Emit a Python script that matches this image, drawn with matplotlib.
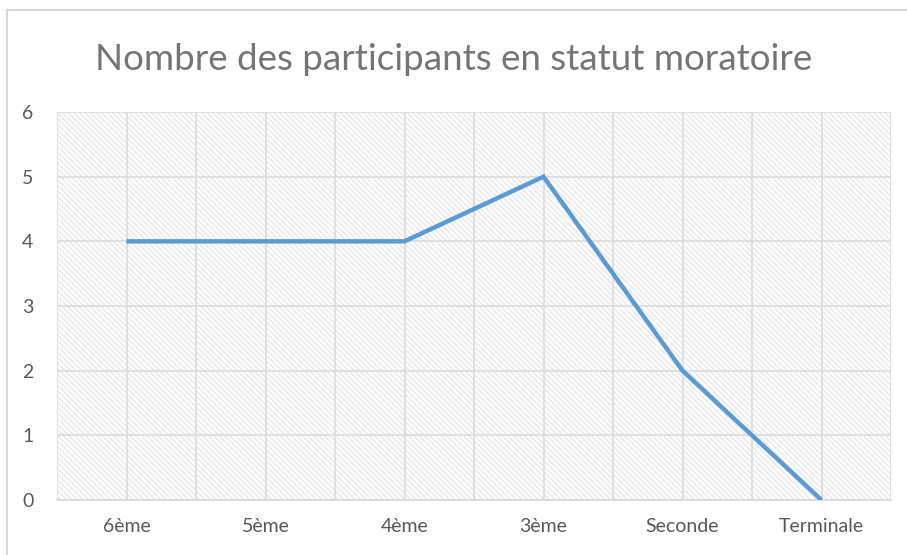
import matplotlib.pyplot as plt
from matplotlib.lines import Line2D
from matplotlib.patches import Rectangle

classes = ['6ème', '5ème', '4ème', '3ème', 'Seconde', 'Terminale']
participants = [4, 4, 4, 5, 2, 0]

plt.rcParams['font.family'] = ['Lato', 'DejaVu Sans']
plt.rcParams['hatch.color'] = '#d2d2d2'
plt.rcParams['hatch.linewidth'] = 0.9

fig = plt.figure(figsize=(9.07, 5.55), dpi=100)
ax = fig.add_axes([57/907, 1 - 500/555, (891-57)/907, (500-112)/555])

# hatched plot area
ax.add_patch(Rectangle((0, 0), 1, 1, transform=ax.transAxes, facecolor='white',
                       edgecolor='#e6e6e6', hatch='\\' * 6, linewidth=0, zorder=0))

x = list(range(len(classes)))
ax.plot(x, participants, color='#5b9bd5', linewidth=3.2, solid_joinstyle='miter',
        solid_capstyle='butt', zorder=3)

ax.set_xlim(-0.5, len(classes) - 0.5)
ax.set_ylim(0, 6)
ax.set_yticks(range(7))
ax.set_xticks(x)
ax.set_xticklabels(classes)
ax.set_xticks([i + 0.5 for i in range(-1, len(classes))], minor=True)
ax.grid(True, which='both', color='#dcdcdc', linewidth=1.2, zorder=1)
for l in ax.get_xgridlines() + ax.get_ygridlines():
    l.set_zorder(1)

for s in ['top', 'left', 'right']:
    ax.spines[s].set_visible(False)
ax.spines['bottom'].set_color('#d9d9d9')
ax.spines['bottom'].set_linewidth(1.2)
ax.tick_params(which='both', length=0, labelsize=14, labelcolor='#595959')
ax.tick_params(axis='x', pad=13)
ax.tick_params(axis='y', pad=17)

fig.text(0.5, 1 - 60/555, 'Nombre des participants en statut moratoire',
         ha='center', va='center', fontsize=26.5, color='#757575')

# chart border
fig.add_artist(Line2D([7/907, 1], [1 - 10/555] * 2, color='#d9d9d9', linewidth=1.5))
fig.add_artist(Line2D([7/907] * 2, [0, 1 - 10/555], color='#d9d9d9', linewidth=1.5))

fig.savefig('out.png', dpi=100)
